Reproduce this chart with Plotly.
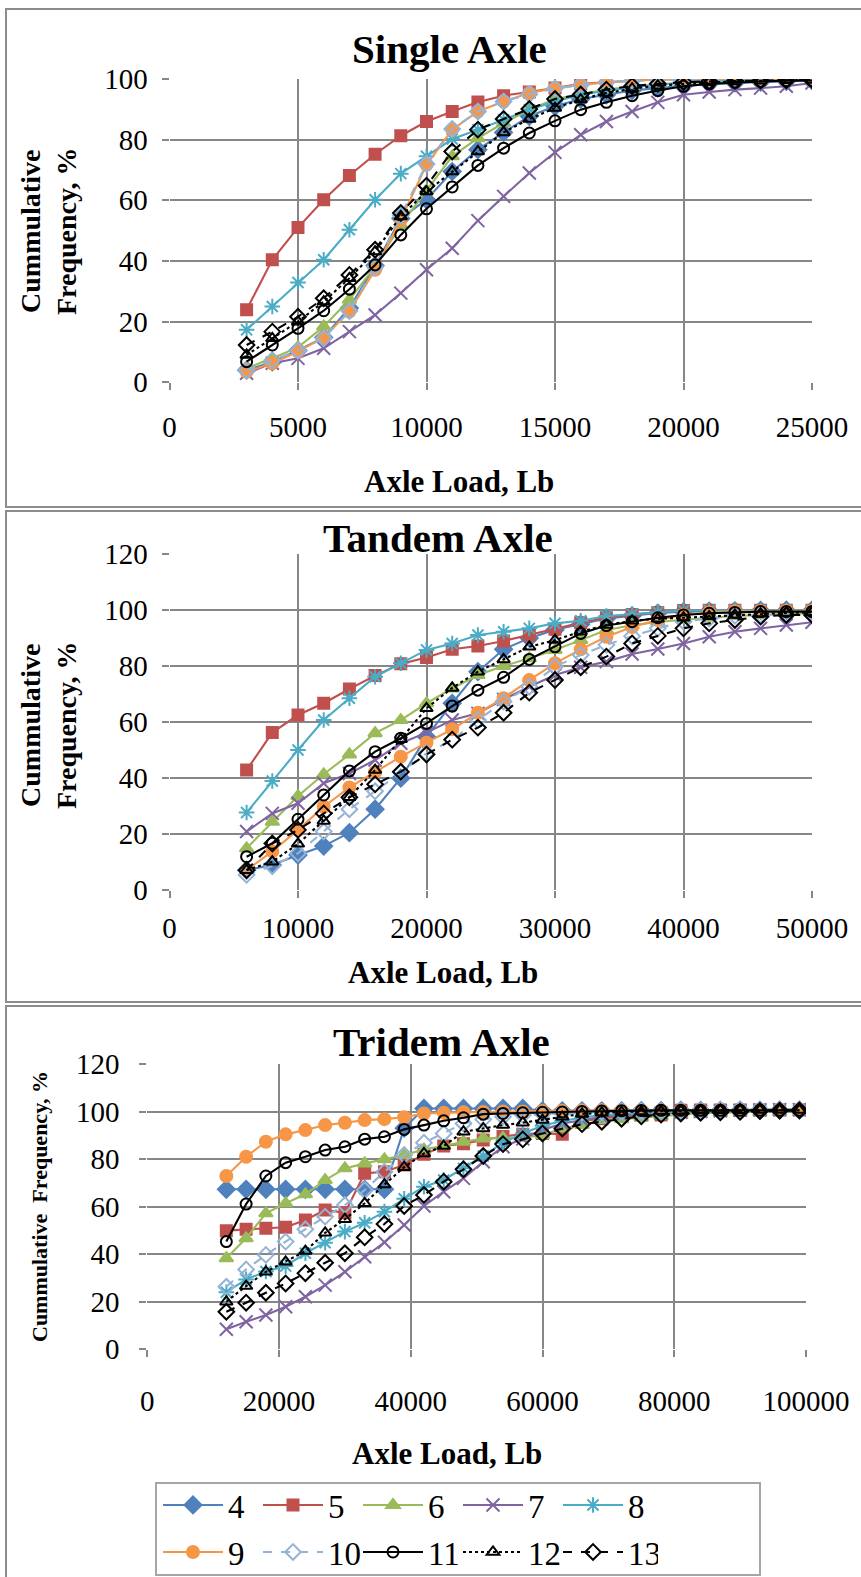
import plotly.graph_objects as go

W, H = 861, 1577

# ---------------- data ----------------
single_x = [3000, 4000, 5000, 6000, 7000, 8000, 9000, 10000, 11000, 12000, 13000, 14000,
            15000, 16000, 17000, 18000, 19000, 20000, 21000, 22000, 23000, 24000, 25000]
single_4 = [4, 6.7, 10.5, 14.8, 24.5, 38.5, 54, 60.2, 69.5, 76.7, 82.4, 87.7, 91, 93.4, 94.8, 96.2, 97, 97.8, 98.4, 98.7, 99, 99.2, 99.5]
single_5 = [23.9, 40.4, 51, 60.2, 68.2, 75.2, 81.3, 86, 89.3, 92.4, 94.5, 95.7, 97, 98.4, 98.9, 99.5, 99.9, 100, 100, 100, 100, 100, 100]
single_6 = [4.6, 7.9, 11.5, 18.4, 27.2, 38.2, 51.9, 63.3, 74.5, 80.5, 85.5, 89.9, 93.4, 95, 96.5, 97.5, 98.2, 98.7, 99.1, 99.3, 99.5, 99.7, 99.8]
single_7 = [3.0, 6.3, 7.9, 11.2, 16.7, 22.2, 29.4, 37.1, 44.2, 53.3, 61.3, 69, 75.8, 81.6, 86, 89.3, 92.3, 94.8, 95.7, 96.5, 97, 97.6, 98.7]
single_8 = [17.3, 25, 32.9, 40.4, 50.3, 60.2, 68.8, 74.5, 80.2, 83.3, 86.6, 89.9, 92.6, 94.8, 96.1, 97.3, 98.2, 98.9, 99.5, 99.7, 100, 100, 100]
single_9 = [3.5, 6.3, 10.1, 14.8, 23.3, 37.1, 53.6, 71.7, 83.3, 89.3, 92.6, 95.4, 97, 98.1, 98.9, 99.5, 99.7, 99.9, 100, 100, 100, 100, 100]
single_10 = [4.0, 7.3, 10.5, 14.5, 23.5, 38, 55, 72, 83.5, 89.3, 92.6, 95, 96.9, 98, 98.9, 99.4, 99.7, 99.9, 100, 100, 100, 100, 100]
single_11 = [6.8, 12.3, 17.8, 23.6, 30.7, 38.7, 48.6, 57.2, 64.4, 71.5, 77.2, 82.2, 86.2, 89.9, 92.3, 94.5, 96.2, 97.6, 98.4, 98.9, 99.2, 99.4, 99.5]
single_12 = [9, 14.5, 20, 26.6, 34.3, 43.1, 54.7, 62.9, 69.5, 76.1, 82.4, 86.8, 90.4, 93.2, 95.4, 96.8, 97.8, 98.4, 98.9, 99.2, 99.4, 99.6, 99.7]
single_13 = [12.3, 16.7, 21.6, 27.7, 35.4, 43.7, 55.8, 64.8, 76.1, 83.3, 86.8, 90.1, 93.4, 94.9, 96.5, 97.7, 98.4, 99, 99.2, 99.4, 99.5, 99.6, 99.7]

tandem_x = [6000, 8000, 10000, 12000, 14000, 16000, 18000, 20000, 22000, 24000, 26000, 28000,
            30000, 32000, 34000, 36000, 38000, 40000, 42000, 44000, 46000, 48000, 50000]
tandem_4 = [7, 8.8, 12.4, 15.6, 20.4, 28.8, 39.9, 54.7, 66.7, 78, 86, 90, 93, 95, 97, 98, 99, 99.5, 99.7, 99.8, 99.9, 100, 100]
tandem_5 = [42.8, 56.2, 62.5, 66.7, 71.8, 76.6, 80.8, 83.1, 86, 87.2, 89, 91.1, 93.2, 95.5, 97.3, 98.5, 99.2, 99.9, 100, 100, 100, 100, 100]
tandem_6 = [14.8, 24.3, 33.5, 41.3, 48.4, 56, 60.7, 66.7, 72, 76.8, 80, 82.8, 85.8, 89.3, 92.9, 94.6, 95.8, 96.6, 97.3, 97.9, 98.3, 98.7, 99]
tandem_7 = [20.8, 27.3, 30.9, 38.1, 41.6, 46.4, 52.4, 56.2, 60.7, 63.1, 68.1, 72.6, 76.8, 79.6, 81.6, 84.3, 86.1, 88.1, 90.5, 92.3, 93.5, 94.7, 95.7]
tandem_8 = [27.6, 38.9, 50, 60.7, 68.5, 76.2, 81, 85.8, 88.1, 91.1, 92.3, 93.5, 95.3, 96.2, 97.9, 98.6, 99.4, 99.9, 100, 100, 100, 100, 100]
tandem_9 = [7, 13.7, 21.4, 29.7, 36.6, 42, 47.6, 52.6, 57.4, 63.3, 68.5, 75, 81, 86, 90.5, 94, 96.5, 98.3, 99.2, 99.6, 99.7, 99.8, 99.8]
tandem_10 = [5.3, 8.5, 13, 20.8, 28.8, 35.2, 42, 48.8, 53.6, 60.7, 67.3, 72.6, 79.8, 84, 87.6, 90.7, 93.5, 95.9, 97, 98, 98.3, 98.6, 98.8]
tandem_11 = [11.8, 16.6, 25.2, 33.9, 42.5, 49.4, 54.2, 59.5, 65.7, 71.4, 76, 82.4, 86.9, 91.7, 94.5, 95.9, 97.3, 98.3, 98.9, 99.2, 99.5, 99.5, 99.5]
tandem_12 = [7, 10, 16.4, 24.6, 33.1, 42.8, 53.8, 64.9, 72.2, 78, 82.4, 86.9, 89.3, 92.3, 94.7, 96.2, 96.9, 97.3, 97.8, 98.3, 98.7, 99, 99.2]
tandem_13 = [7, 16.5, 21.4, 27.3, 33.1, 37.7, 42.2, 48.4, 53.7, 58, 63.3, 70.5, 75, 79.6, 83.4, 88.1, 90.8, 93.5, 95.3, 96.5, 97.7, 98.3, 98.3]

tridem_x = [12000, 15000, 18000, 21000, 24000, 27000, 30000, 33000, 36000, 39000,
            42000, 45000, 48000, 51000, 54000, 57000, 60000, 63000, 66000, 69000,
            72000, 75000, 78000, 81000, 84000, 87000, 90000, 93000, 96000, 99000]
tridem_4 = [67.3, 67.3, 67.3, 67.3, 67.3, 67.3, 67.3, 67.3, 67.3, 93,
            101.3, 101.3, 101.3, 101.3, 101.3, 101.3, 100.3, 100.3, 100.3, 100.3,
            100.3, 100.4, 100.4, 100.5, 100.5, 100.5, 100.6, 100.6, 100.6, 100.6]
tridem_5 = [49.9, 50.5, 50.9, 51.3, 54.4, 58.6, 57.4, 74, 74.7, 77.5,
            82, 85.5, 86.5, 88, 89.5, 90.5, 90.8, 90.5, 96, 97,
            98, 98.5, 98.5, 100.5, 100.6, 100.6, 100.6, 100.6, 100.6, 100.6]
tridem_6 = [38.3, 46.7, 57.2, 61.4, 65.2, 71.2, 76.1, 78.2, 79.9, 81.7,
            84, 85.5, 87.3, 88.7, 88.9, 89, 90.1, 92.9, 94.3, 96.4,
            96.8, 97.4, 98.1, 98.8, 99.3, 99.5, 99.7, 99.8, 100, 100.3]
tridem_7 = [8.4, 11.6, 14.4, 17.9, 22.1, 27, 32.6, 38.9, 45, 52.3,
            60.3, 66.3, 71.9, 78.9, 85.2, 88.5, 92.2, 95, 96.4, 97.8,
            98.5, 99, 99.4, 99.7, 100, 100.3, 100.5, 100.7, 100.8, 100.8]
tridem_8 = [24, 29.4, 32.7, 35, 40.4, 44.8, 49.5, 53.2, 57.9, 63.3,
            68.4, 71.2, 76.1, 81.3, 86.9, 90.8, 94, 96, 97.5, 98.5,
            99, 99.4, 99.7, 100, 100.3, 100.5, 100.7, 100.8, 100.9, 100.9]
tridem_9 = [72.9, 81, 87.3, 90.4, 92.2, 94.3, 95.3, 96.4, 96.8, 97.6,
            99.2, 99.5, 99.7, 99.8, 100, 100, 100.2, 100.3, 100.4, 100.5,
            100.5, 100.5, 100.5, 100.6, 100.6, 100.6, 100.6, 100.6, 100.6, 100.6]
tridem_10 = [26.3, 33.6, 39.7, 45.3, 50.5, 55.8, 60.7, 67, 74.7, 81.7,
             86.9, 90.8, 95, 96.7, 97.8, 98.5, 99, 99.3, 99.6, 99.8,
             100, 100.2, 100.3, 100.4, 100.5, 100.6, 100.7, 100.8, 100.8, 100.8]
tridem_11 = [45.3, 61.1, 72.9, 78.5, 81, 83.8, 85.2, 88.4, 89.4, 92.5,
             94.3, 96.1, 97.4, 98.9, 99.2, 99.5, 99.7, 99.8, 100, 100.2,
             100.3, 100.4, 100.5, 100.5, 100.5, 100.5, 100.5, 100.5, 100.5, 100.5]
tridem_12 = [20, 26.6, 32.6, 36.8, 41.3, 49, 54.7, 61.4, 69.3, 76.6,
             82.4, 85.5, 91.5, 92.9, 94.3, 95.3, 96.4, 97.8, 99, 99.5,
             99.8, 100, 100.2, 100.3, 100.4, 100.5, 100.5, 100.6, 100.6, 100.6]
tridem_13 = [15.8, 19.6, 23.8, 27.7, 32, 36.4, 40.4, 47.1, 52.7, 60.3,
             64.9, 70.5, 75.7, 81.3, 86.3, 88.3, 90.8, 92.9, 94.7, 95.7,
             97, 98, 98.7, 99.2, 99.5, 99.7, 99.9, 100.2, 100.4, 100.5]

series_names = ["4", "5", "6", "7", "8", "9", "10", "11", "12", "13"]
single_vals = [single_4, single_5, single_6, single_7, single_8, single_9, single_10, single_11, single_12, single_13]
tandem_vals = [tandem_4, tandem_5, tandem_6, tandem_7, tandem_8, tandem_9, tandem_10, tandem_11, tandem_12, tandem_13]
tridem_vals = [tridem_4, tridem_5, tridem_6, tridem_7, tridem_8, tridem_9, tridem_10, tridem_11, tridem_12, tridem_13]

x_ticks_single = [0, 5000, 10000, 15000, 20000, 25000]
x_ticks_tandem = [0, 10000, 20000, 30000, 40000, 50000]
x_ticks_tridem = [0, 20000, 40000, 60000, 80000, 100000]

# ---------------- styles ----------------
styles = [
    dict(color="#4F81BD", dash="solid", symbol="diamond", mcolor="#4F81BD", size=13),
    dict(color="#C0504D", dash="solid", symbol="square", mcolor="#C0504D", size=11),
    dict(color="#9BBB59", dash="solid", symbol="triangle-up", mcolor="#9BBB59", size=12),
    dict(color="#8064A2", dash="solid", symbol="x-thin-open", mcolor="#8064A2", size=13),
    dict(color="#4BACC6", dash="solid", symbol="asterisk-open", mcolor="#4BACC6", size=13),
    dict(color="#F79646", dash="solid", symbol="circle", mcolor="#F79646", size=12),
    dict(color="#95B3D7", dash="dash", symbol="diamond-open", mcolor="#95B3D7", size=12),
    dict(color="#000000", dash="solid", symbol="circle-open", mcolor="#000000", size=11),
    dict(color="#000000", dash="dot", symbol="triangle-up-open", mcolor="#000000", size=11),
    dict(color="#000000", dash="dash", symbol="diamond-open", mcolor="#000000", size=12),
]

fig = go.Figure()

def add_panel(xs, vals, xa, ya, show):
    for i, (name, v) in enumerate(zip(series_names, vals)):
        st = styles[i]
        fig.add_trace(go.Scatter(
            x=xs, y=v, name=name, mode="lines+markers",
            xaxis=xa, yaxis=ya,
            line=dict(color=st["color"], width=2.1, dash=st["dash"]),
            marker=dict(symbol=st["symbol"], size=st["size"], color=st["mcolor"],
                        line=dict(color=st["mcolor"], width=2)),
            showlegend=show, legendgroup=name,
            legend="legend" if i < 5 else "legend2",
        ))

add_panel(single_x, single_vals, "x", "y", True)
add_panel(tandem_x, tandem_vals, "x2", "y2", False)
add_panel(tridem_x, tridem_vals, "x3", "y3", False)

def px_x(x):
    return x / W

def px_y(y):
    return 1 - y / H

GRID = "#878787"
SERIF = "Liberation Serif"
TICKFONT = dict(family=SERIF, size=29, color="black")

def xaxis(domain, rng, ticks, anchor, standoff):
    return dict(domain=domain, range=rng, tickvals=ticks, ticktext=[str(t) for t in ticks],
                showgrid=True, gridcolor=GRID, gridwidth=1.6, zeroline=False,
                showline=False, ticks="outside", ticklen=7, tickcolor=GRID, tickwidth=1.6,
                tickfont=TICKFONT, anchor=anchor, fixedrange=True, ticklabelstandoff=standoff,
                automargin=False)

def yaxis(domain, rng, anchor, standoff):
    return dict(domain=domain, range=rng, dtick=20, tick0=0,
                showgrid=True, gridcolor=GRID, gridwidth=1.6, zeroline=False,
                showline=False, ticks="outside", ticklen=7, tickcolor=GRID, tickwidth=1.6,
                tickfont=TICKFONT, anchor=anchor, fixedrange=True, ticklabelstandoff=standoff,
                automargin=False)

dom_x12 = [px_x(169.5), px_x(812)]
dom_x3 = [px_x(147.3), px_x(806)]

legend_common = dict(orientation="h", xanchor="left", yanchor="middle",
                     font=dict(family=SERIF, size=33, color="black"), itemwidth=60,
                     entrywidth=25, entrywidthmode="pixels", bgcolor="rgba(0,0,0,0)",
                     tracegroupgap=0, itemclick=False, itemdoubleclick=False)

fig.update_layout(
    width=W, height=H,
    margin=dict(l=0, r=0, t=0, b=0, autoexpand=False),
    paper_bgcolor="white", plot_bgcolor="white",
    font=dict(family=SERIF, color="black"),
    xaxis=xaxis(dom_x12, [0, 25000], x_ticks_single, "y", 12),
    yaxis=yaxis([px_y(382.3), px_y(79)], [0, 100], "x", 8),
    xaxis2=xaxis(dom_x12, [0, 50000], x_ticks_tandem, "y2", 5),
    yaxis2=yaxis([px_y(889.7), px_y(554.3)], [0, 120], "x2", 8),
    xaxis3=xaxis(dom_x3, [0, 100000], x_ticks_tridem, "y3", 19),
    yaxis3=yaxis([px_y(1349.3), px_y(1064)], [0, 120], "x3", 14),
    legend=dict(x=px_x(158), y=px_y(1505), **legend_common),
    legend2=dict(x=px_x(158), y=px_y(1552), **legend_common),
    showlegend=True,
)

# panel frames and legend frame
frames = [(6, 9, 900, 507), (6, 511, 900, 1002), (6, 1006, 900, 1600)]
for (x0, y0, x1, y1) in frames:
    fig.add_shape(type="rect", xref="paper", yref="paper",
                  x0=px_x(x0), x1=px_x(x1), y0=px_y(y1), y1=px_y(y0),
                  line=dict(color="#8C8C8C", width=2), fillcolor="rgba(0,0,0,0)", layer="below")
fig.add_shape(type="rect", xref="paper", yref="paper",
              x0=px_x(156), x1=px_x(760), y0=px_y(1575), y1=px_y(1483),
              line=dict(color="#A6A6A6", width=2), fillcolor="white", layer="below")

def ann(text, x, y, size, bold=True, angle=0):
    fig.add_annotation(text=f"<b>{text}</b>" if bold else text, xref="paper", yref="paper",
                       x=px_x(x), y=px_y(y), showarrow=False, textangle=angle,
                       xanchor="center", yanchor="middle",
                       font=dict(family=SERIF, size=size, color="black"))

# titles
ann("Single Axle", 449, 49, 41)
ann("Tandem Axle", 438, 538, 41)
ann("Tridem Axle", 441, 1042, 41)
# x-axis titles
ann("Axle Load, Lb", 459, 481, 31)
ann("Axle Load, Lb", 443, 972, 31)
ann("Axle Load, Lb", 447, 1453, 31)
# y-axis titles
ann("Cummulative<br>Frequency, %", 48, 232, 28, angle=-90)
ann("Cummulative<br>Frequency, %", 48, 726, 28, angle=-90)
ann("Cummulative  Frequency, %", 39, 1207, 22, angle=-90)

fig.write_html("out.html")
